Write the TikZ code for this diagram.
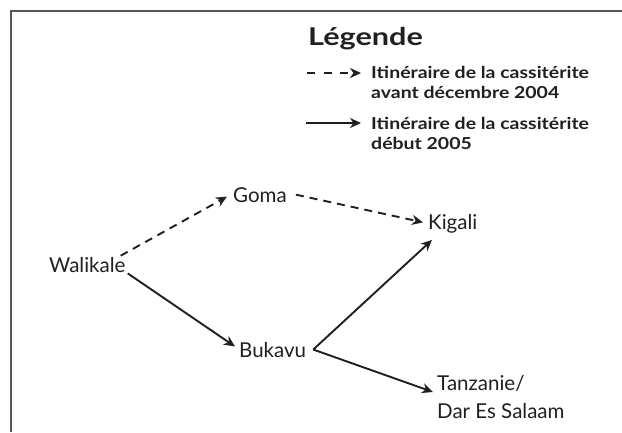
\documentclass[tikz,border=0pt]{standalone}
\usepackage{fontspec}
\setmainfont{Lato}
\newfontfamily\legfont[FakeStretch=1.18]{Lato}
\newfontfamily\titfont[FakeStretch=1.25]{Lato}
\usetikzlibrary{arrows.meta}
\definecolor{ink}{HTML}{231F20}
\begin{document}
\begin{tikzpicture}[x=1pt,y=-1pt,
  every node/.style={inner sep=0pt, anchor=base west, text=ink},
  city/.style={font=\fontsize{20.5}{28}\selectfont, align=left},
  legtxt/.style={font=\legfont\bfseries\fontsize{16.5}{20}\selectfont, align=left},
  legtitle/.style={font=\titfont\bfseries\fontsize{24.5}{28}\selectfont},
  route/.style={draw=ink, line width=1.9pt, -{Stealth[length=11pt,width=10pt,inset=3.5pt]}},
  dashroute/.style={route, dash pattern=on 8pt off 6pt},
  legdash/.style={route, dash pattern=on 8pt off 8.5pt},
  framel/.style={draw=ink!75, line width=1.4pt}]
\useasboundingbox (0,0) rectangle (622,432);
\fill[white] (0,0) rectangle (622,432);
% frame
\coordinate (fbl) at (11,432);
\coordinate (ftl) at (11,11);
\coordinate (ftr) at (622,11);
\draw[framel] (fbl) -- (ftl) -- (ftr);
% legend
\node[legtitle] (leg) at (308,45) {Légende};
\coordinate (d1) at (307,73);
\coordinate (d2) at (361,73);
\draw[legdash] (d1) -- (d2);
\node[legtxt] (lt1) at (371,98) {Itinéraire de la cassitérite\\avant décembre 2004};
\coordinate (s1) at (306,123);
\coordinate (s2) at (361,123);
\draw[route] (s1) -- (s2);
\node[legtxt] (lt2) at (371,149) {Itinéraire de la cassitérite\\début 2005};
% cities
\node[city] (wal) at (49,272) {Walikale};
\node[city] (gom) at (233,202) {Goma};
\node[city] (buk) at (239,357) {Bukavu};
\node[city] (kig) at (428,229) {Kigali};
\node[city] (tan) at (437,418) {Tanzanie/\\Dar Es Salaam};
% routes
\draw[dashroute] ([xshift=-5pt,yshift=1pt]wal.north east) -- ([xshift=-6pt,yshift=-2pt]gom.west);
\draw[dashroute] ([xshift=9pt]gom.east) -- ([xshift=-5pt,yshift=1pt]kig.west);
\draw[route] ([xshift=2pt,yshift=-1pt]wal.south east) -- ([xshift=-4pt,yshift=3pt]buk.west);
\draw[route] ([xshift=7pt]buk.east) -- ([xshift=4pt,yshift=-7pt]kig.south west);
\draw[route] ([xshift=7pt]buk.east) -- ([xshift=-4pt,yshift=26pt]tan.base west);
\end{tikzpicture}
\end{document}
